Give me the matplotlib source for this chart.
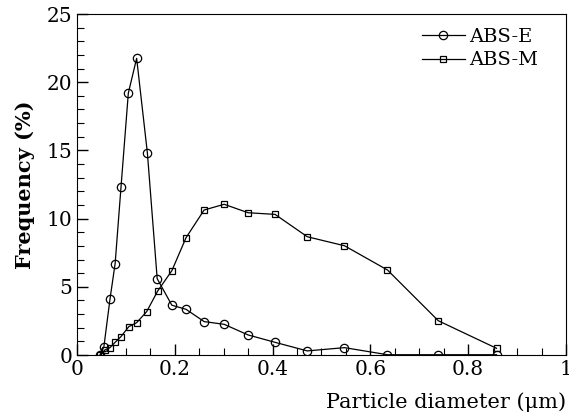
import matplotlib
matplotlib.use('Agg')
import matplotlib.pyplot as plt
from matplotlib.ticker import MultipleLocator

# ABS-E particle size distribution
abs_e_x = [0.047, 0.055, 0.0675, 0.078, 0.09, 0.105, 0.122, 0.144, 0.164, 0.194,
           0.223, 0.260, 0.301, 0.350, 0.405, 0.471, 0.547, 0.635, 0.739, 0.858]
abs_e_y = [0.0, 0.6, 4.1, 6.7, 12.3, 19.2, 21.75, 14.8, 5.6, 3.65,
           3.35, 2.45, 2.25, 1.47, 0.93, 0.3, 0.54, 0.02, 0.02, 0.02]

# ABS-M particle size distribution
abs_m_x = [0.048, 0.057, 0.0675, 0.078, 0.09, 0.106, 0.122, 0.1425, 0.165, 0.194,
           0.223, 0.260, 0.301, 0.350, 0.405, 0.471, 0.547, 0.635, 0.739, 0.858]
abs_m_y = [0.0, 0.37, 0.54, 0.93, 1.35, 2.08, 2.37, 3.18, 4.69, 6.18,
           8.6, 10.63, 11.05, 10.43, 10.31, 8.67, 8.01, 6.23, 2.51, 0.49]

x_ticks = [0, 0.2, 0.4, 0.6, 0.8, 1]
x_tick_labels = ['0', '0.2', '0.4', '0.6', '0.8', '1']

plt.rcParams['font.family'] = ['DejaVu Serif']

fig = plt.figure(figsize=(5.69, 4.18), dpi=100)
ax = fig.add_axes([0.1353, 0.1507, 0.8594, 0.8158])

ax.plot(abs_e_x, abs_e_y, color='black', linewidth=0.9, marker='o', markersize=6,
        markerfacecolor='none', markeredgecolor='black', markeredgewidth=0.9, label='ABS-E')
ax.plot(abs_m_x, abs_m_y, color='black', linewidth=0.9, marker='s', markersize=5,
        markerfacecolor='none', markeredgecolor='black', markeredgewidth=0.9, label='ABS-M')

ax.set_xlim(0, 1)
ax.set_ylim(0, 25)
ax.set_xticks(x_ticks)
ax.set_xticklabels(x_tick_labels)
ax.xaxis.set_minor_locator(MultipleLocator(0.05))
ax.yaxis.set_major_locator(MultipleLocator(5))
ax.yaxis.set_minor_locator(MultipleLocator(1))
ax.tick_params(which='both', direction='in', top=False, right=False, labelsize=14.5)
ax.tick_params(which='major', length=8, width=1)
ax.tick_params(which='minor', length=5, width=0.8)

ax.set_ylabel('Frequency (%)', fontsize=15, fontweight='bold', labelpad=8)
ax.set_xlabel('Particle diameter (μm)', fontsize=15, loc='right', labelpad=10)

leg = ax.legend(loc='upper right', bbox_to_anchor=(0.97, 1.0), frameon=False, fontsize=14,
                handlelength=2.2, handletextpad=0.2, borderaxespad=0.3, labelspacing=0.3)

fig.savefig('out.png', dpi=100)
